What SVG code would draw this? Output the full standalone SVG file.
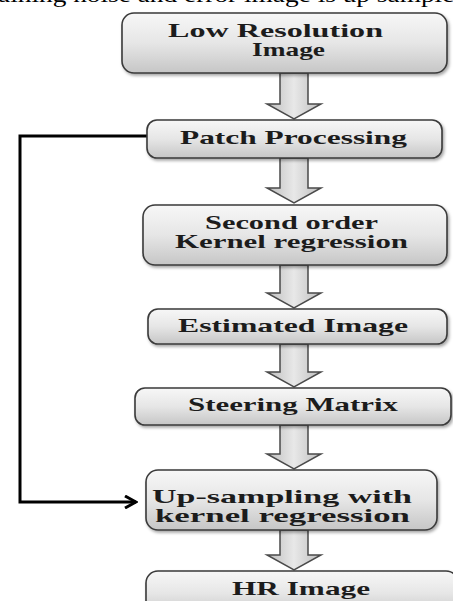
<svg xmlns="http://www.w3.org/2000/svg" width="453" height="601" viewBox="0 0 453 601">
<defs>
<linearGradient id="boxg" x1="0" y1="0" x2="0" y2="1">
<stop offset="0" stop-color="#f7f7f7"/>
<stop offset="0.5" stop-color="#e6e6e6"/>
<stop offset="1" stop-color="#c6c6c6"/>
</linearGradient>
<linearGradient id="arrg" x1="0" y1="0" x2="1" y2="0">
<stop offset="0" stop-color="#bdbdbd"/>
<stop offset="0.5" stop-color="#e8e8e8"/>
<stop offset="1" stop-color="#bdbdbd"/>
</linearGradient>
<filter id="sh" x="-5%" y="-10%" width="115%" height="130%">
<feDropShadow dx="1.5" dy="2" stdDeviation="1.5" flood-color="#000" flood-opacity="0.35"/>
</filter>
<marker id="open" markerWidth="14" markerHeight="14" refX="12" refY="7" orient="auto" markerUnits="userSpaceOnUse">
<path d="M1,1 L12,7 L1,13" fill="none" stroke="#000" stroke-width="3"/>
</marker>
</defs>
<style>
.box{fill:url(#boxg);stroke:#3a3a3a;stroke-width:1.6;filter:url(#sh)}
.arr{fill:url(#arrg);stroke:#4a4a4a;stroke-width:1.5;stroke-linejoin:miter}
.t{font-family:"Liberation Serif","Times New Roman",serif;font-weight:bold;font-size:19px;fill:#1c1c1c}
.top{font-family:"Liberation Serif","Times New Roman",serif;font-size:22px;fill:#000}
</style>
<text class="top" x="-2" y="2" textLength="470" lengthAdjust="spacingAndGlyphs">aining noise and error image is up sampled</text>
<g id="connectors">
<path class="arr" d="M280,73 H308 V104 H321 L294,119 L267,104 H280 Z"/>
<path class="arr" d="M280,158 H308 V188 H321 L294,203 L267,188 H280 Z"/>
<path class="arr" d="M280,265 H308 V293 H321 L294,308 L267,293 H280 Z"/>
<path class="arr" d="M280,344 H308 V372 H321 L294,387 L267,372 H280 Z"/>
<path class="arr" d="M280,425 H308 V454 H321 L294,469 L267,454 H280 Z"/>
<path class="arr" d="M280,530 H308 V555 H321 L294,570 L267,555 H280 Z"/>
<path d="M147,136 H20 V502 H136" fill="none" stroke="#000" stroke-width="3" marker-end="url(#open)"/>
</g>
<g id="n1">
<rect class="box" x="122" y="13" width="325" height="60" rx="12"/>
<text class="t" x="168" y="37" textLength="215" lengthAdjust="spacingAndGlyphs">Low Resolution</text>
<text class="t" x="252" y="56" textLength="73" lengthAdjust="spacingAndGlyphs">Image</text>
</g>
<g id="n2">
<rect class="box" x="147" y="120" width="295" height="38" rx="10"/>
<text class="t" x="180" y="144" textLength="227" lengthAdjust="spacingAndGlyphs">Patch Processing</text>
</g>
<g id="n3">
<rect class="box" x="143" y="205" width="304" height="60" rx="12"/>
<text class="t" x="205" y="229" textLength="173" lengthAdjust="spacingAndGlyphs">Second order</text>
<text class="t" x="175" y="248" textLength="233" lengthAdjust="spacingAndGlyphs">Kernel regression</text>
</g>
<g id="n4">
<rect class="box" x="148" y="309" width="299" height="35" rx="10"/>
<text class="t" x="178" y="332" textLength="230" lengthAdjust="spacingAndGlyphs">Estimated Image</text>
</g>
<g id="n5">
<rect class="box" x="135" y="388" width="316" height="37" rx="10"/>
<text class="t" x="188" y="411" textLength="210" lengthAdjust="spacingAndGlyphs">Steering Matrix</text>
</g>
<g id="n6">
<rect class="box" x="146" y="470" width="291" height="60" rx="12"/>
<text class="t" x="152" y="503" textLength="260" lengthAdjust="spacingAndGlyphs">Up-sampling with</text>
<text class="t" x="155" y="522" textLength="255" lengthAdjust="spacingAndGlyphs">kernel regression</text>
</g>
<g id="n7">
<rect class="box" x="146" y="571" width="312" height="45" rx="12"/>
<text class="t" x="232" y="595" textLength="138" lengthAdjust="spacingAndGlyphs">HR Image</text>
</g>
</svg>
